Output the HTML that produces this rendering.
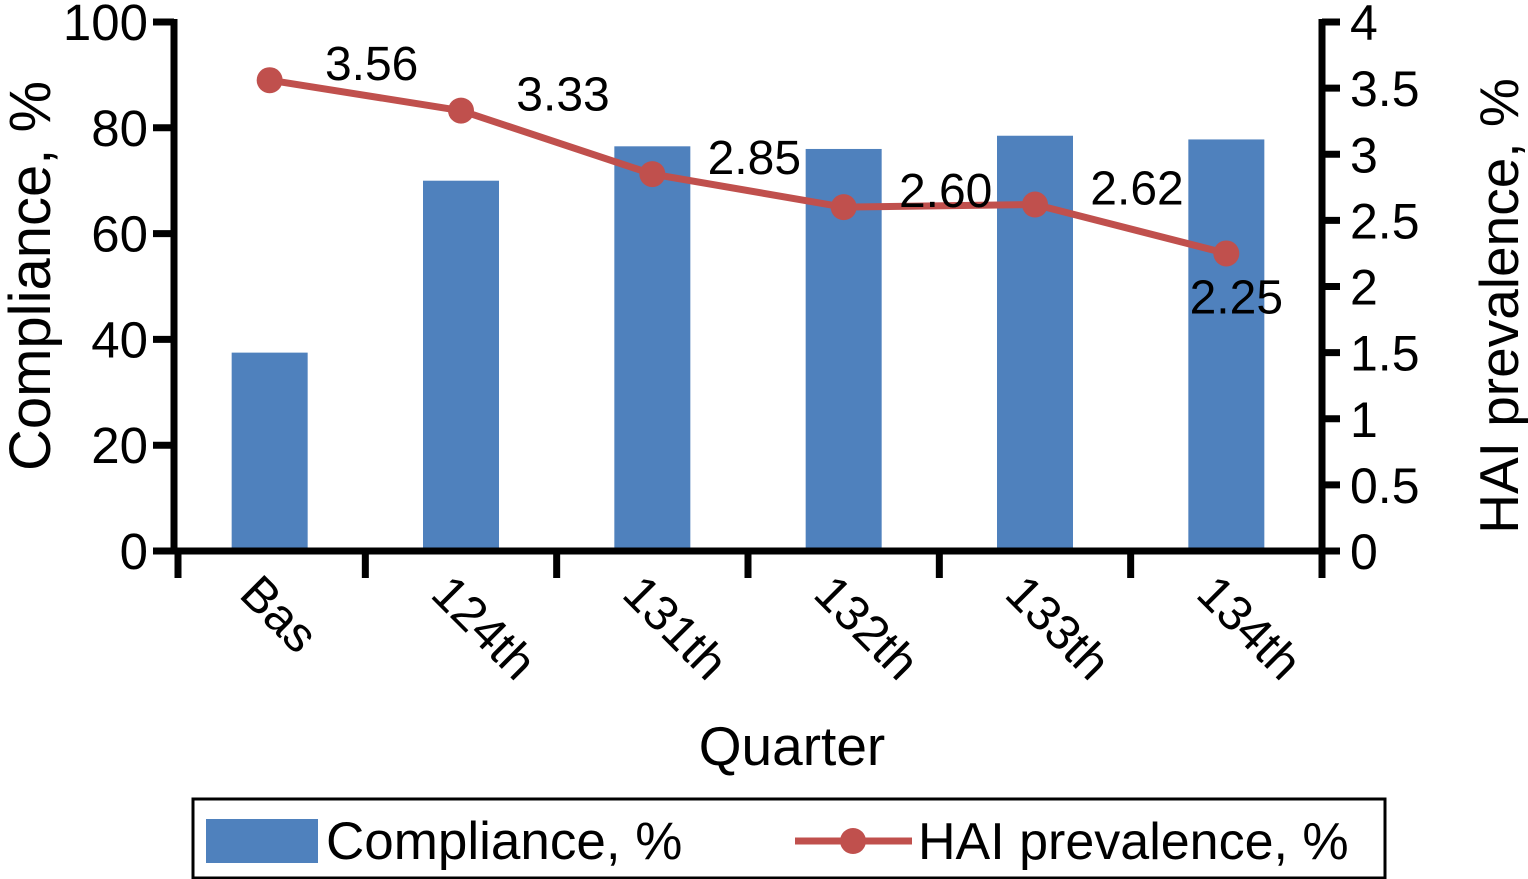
<!DOCTYPE html>
<html><head><meta charset="utf-8"><style>
body{margin:0;background:#fff;}
svg{display:block;font-family:"Liberation Sans",Arial,sans-serif;}
</style></head><body>
<svg id="c" width="1528" height="879"></svg>
<script>
const categories=["Bas","124th","131th","132th","133th","134th"];
const compliance=[37.5,70,76.5,76,78.5,77.8];
const hai=[3.56,3.33,2.85,2.60,2.62,2.25];
const haiLabels=["3.56","3.33","2.85","2.60","2.62","2.25"];
const leftTicks=[0,20,40,60,80,100];
const rightTicks=["0","0.5","1","1.5","2","2.5","3","3.5","4"];
const NS="http://www.w3.org/2000/svg";
const svg=document.getElementById('c');
function el(t,a,p){const e=document.createElementNS(NS,t);for(const k in a)e.setAttribute(k,a[k]);(p||svg).appendChild(e);return e;}
const x0=174,x1=1322,y0=551,yTop=22;
const step=(x1-x0)/categories.length;
const xc=i=>x0+step*(i+0.5);
const yL=v=>y0-(v/100)*(y0-yTop);
const yR=v=>y0-(v/4)*(y0-yTop);
compliance.forEach((v,i)=>{
 const r=el('rect',{x:xc(i)-38,y:yL(v),width:76,height:y0-yL(v),fill:'#4f81bd'});
 
 
});
el('line',{x1:x0,y1:yTop-3,x2:x0,y2:y0+3,stroke:'#000','stroke-width':7});
el('line',{x1:x1,y1:yTop-3,x2:x1,y2:y0+3,stroke:'#000','stroke-width':7});
el('line',{x1:153,y1:y0,x2:1340,y2:y0,stroke:'#000','stroke-width':7});
leftTicks.forEach(v=>{
 el('line',{x1:153,y1:yL(v),x2:x0,y2:yL(v),stroke:'#000','stroke-width':7});
 const t=el('text',{x:148,y:yL(v)+18,'text-anchor':'end','font-size':51});t.textContent=v;
 
});
rightTicks.forEach((s,i)=>{
 const y=yR(i*0.5);
 el('line',{x1:x1,y1:y,x2:1340,y2:y,stroke:'#000','stroke-width':7});
 const t=el('text',{x:1350,y:y+18,'font-size':50});t.textContent=s;
 
});
for(let i=0;i<=categories.length;i++){
 el('line',{x1:x0+step*i+(i==0?4:0),y1:y0,x2:x0+step*i+(i==0?4:0),y2:578,stroke:'#000','stroke-width':7});
}
categories.forEach((c,i)=>{
 const t=el('text',{x:0,y:0,'font-size':49,transform:`translate(${xc(i)-32},${596}) rotate(45)`});t.textContent=c;
 
});
const pts=hai.map((v,i)=>xc(i)+','+yR(v)).join(' ');
const pl=el('polyline',{points:pts,fill:'none',stroke:'#c0504d','stroke-width':7});

hai.forEach((v,i)=>{
 const m=el('circle',{cx:xc(i),cy:yR(v),r:13,fill:'#c0504d'});
 
 const t=el('text',{x:xc(i)+(i==5?10:102),y:yR(v)+(i==5?60:0),'text-anchor':'middle','font-size':48});
 t.textContent=haiLabels[i];
 
});
let t=el('text',{x:0,y:0,'font-size':58,'text-anchor':'middle',transform:'translate(50,276) rotate(-90)'});t.textContent='Compliance, %';

t=el('text',{x:0,y:0,'font-size':55,'text-anchor':'middle',transform:'translate(1518,306) rotate(-90)'});t.textContent='HAI prevalence, %';

t=el('text',{x:792,y:765,'font-size':55,'text-anchor':'middle'});t.textContent='Quarter';

const lg=el('g',{});
el('rect',{x:193,y:799,width:1192,height:79,fill:'#fff',stroke:'#000','stroke-width':3},lg);
el('rect',{x:206,y:819,width:112,height:44,fill:'#4f81bd'},lg);
t=el('text',{x:326,y:859,'font-size':53},lg);t.textContent='Compliance, %';
el('line',{x1:795,y1:841,x2:912,y2:841,stroke:'#c0504d','stroke-width':7},lg);
el('circle',{cx:853,cy:841,r:13,fill:'#c0504d'},lg);
t=el('text',{x:918,y:859,'font-size':52},lg);t.textContent='HAI prevalence, %';
</script>
</body></html>
